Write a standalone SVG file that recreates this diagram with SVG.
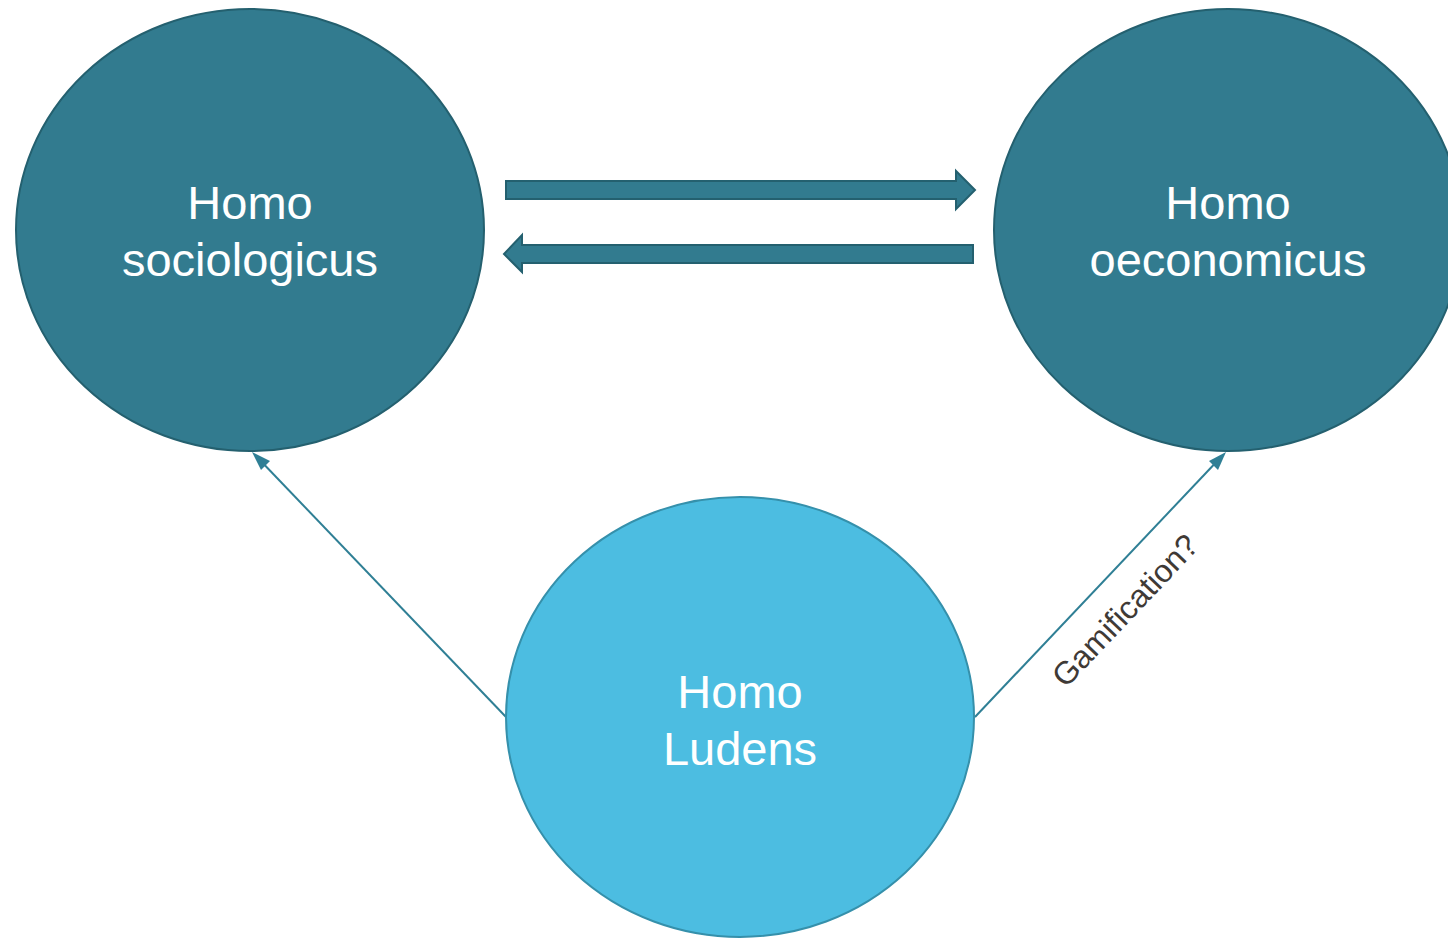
<svg xmlns="http://www.w3.org/2000/svg" width="1448" height="939" viewBox="0 0 1448 939">
<style>
.dark{fill:#327B8F;stroke:#24606F;stroke-width:2}
.light{fill:#4CBDE1;stroke:#3590AB;stroke-width:2}
.lbl{font-family:"Liberation Sans",Arial,sans-serif;font-size:47px;fill:#ffffff;text-anchor:middle}
.conn{stroke:#2F7F95;stroke-width:2;fill:none}
.blk{fill:#327B8F;stroke:#24606F;stroke-width:2}
.edge{font-family:"Liberation Sans",Arial,sans-serif;font-size:32px;fill:#3F3A36;text-anchor:middle}
.head{fill:#2F7F95}
</style>
<rect width="1448" height="939" fill="#ffffff"/>
<g id="connectors">
<line class="conn" x1="506" y1="717" x2="256" y2="456"/>
<path class="head" d="M252,452 L270,461 L261,470 z"/>
<line class="conn" x1="975" y1="717" x2="1222" y2="456"/>
<path class="head" d="M1226,452 L1218,470 L1209,461 z"/>
<path class="blk" d="M506,181 L956,181 L956,171 L975,190 L956,209 L956,199 L506,199 z"/>
<path class="blk" d="M973,245 L522,245 L522,235 L504,254 L522,272 L522,263 L973,263 z"/>
<text class="edge" transform="translate(1133,618) rotate(-46.5)">Gamification?</text>
</g>
<g id="node-sociologicus">
<ellipse class="dark" cx="250" cy="230" rx="234" ry="221"/>
<text class="lbl" x="250" y="219">Homo</text>
<text class="lbl" x="250" y="276">sociologicus</text>
</g>
<g id="node-oeconomicus">
<ellipse class="dark" cx="1228" cy="230" rx="234" ry="221"/>
<text class="lbl" x="1228" y="219">Homo</text>
<text class="lbl" x="1228" y="276">oeconomicus</text>
</g>
<g id="node-ludens">
<ellipse class="light" cx="740" cy="717" rx="234" ry="220"/>
<text class="lbl" x="740" y="708">Homo</text>
<text class="lbl" x="740" y="765">Ludens</text>
</g>
</svg>
